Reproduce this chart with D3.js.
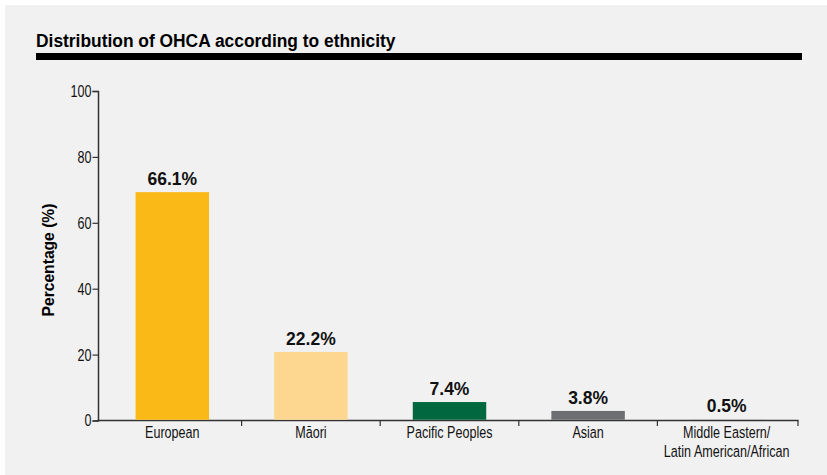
<!DOCTYPE html>
<html>
<head>
<meta charset="utf-8">
<script src="https://cdn.jsdelivr.net/npm/d3@7"></script>
<style>
  html, body { margin: 0; padding: 0; background: #ffffff; }
  svg { display: block; }
  text { font-family: "Liberation Sans", Arial, sans-serif; }
</style>
</head>
<body>
<svg id="chart" width="827" height="475"></svg>
<script>
// ---- Data ----
const categories = ["European", "Māori", "Pacific Peoples", "Asian", "Middle Eastern/\nLatin American/African"];
const barValues = [69.3, 20.8, 5.6, 2.9, 0.4];          // bar heights as drawn
const valueLabels = ["66.1%", "22.2%", "7.4%", "3.8%", "0.5%"];
const barColors = ["#fbb917", "#fdd78f", "#00673e", "#6d6e71", "#b1b1b1"];
const yTicks = [0, 20, 40, 60, 80, 100];
const titleText = "Distribution of OHCA according to ethnicity";
const yLabelText = "Percentage (%)";

const svg = d3.select("#chart");
const W = 827, H = 475;
const K = 0.74; // horizontal condensing factor

// background
svg.append("rect").attr("x", 5).attr("y", 5).attr("width", W - 5).attr("height", H - 5).attr("fill", "#f1f1f1");

// title (condensed via horizontal scale)
svg.append("text")
  .attr("transform", "translate(36,47) scale(0.915,1)")
  .attr("font-size", 19).attr("font-weight", "bold").attr("fill", "#000")
  .text(titleText);
svg.append("rect").attr("x", 36).attr("y", 53).attr("width", 766).attr("height", 7).attr("fill", "#000");

// scales
const y = d3.scaleLinear().domain([0, 100]).range([420.5, 91]);
const x = d3.scaleBand().domain(categories).range([103, 796]).paddingInner(0.47).paddingOuter(0.235);

// y axis
const yAxis = svg.append("g").attr("transform", "translate(98,0)")
  .call(d3.axisLeft(y).tickValues(yTicks).tickSize(5.5).tickPadding(1));
yAxis.attr("font-family", null);
yAxis.select(".domain").attr("stroke", "#333").attr("stroke-width", 1.5);
yAxis.selectAll(".tick line").attr("stroke", "#333").attr("stroke-width", 1.2);
yAxis.selectAll(".tick text")
  .attr("font-size", 17).attr("fill", "#111")
  .attr("x", -6.5 / K)
  .attr("transform", `scale(${K},1)`);

// x axis line with boundary ticks
const xTickPos = categories.slice(1).map(c => x(c) - x.step() * x.paddingInner() / 2);
xTickPos.push(798);
svg.append("line").attr("x1", 97.25).attr("x2", 798.6).attr("y1", 420.5).attr("y2", 420.5)
  .attr("stroke", "#333").attr("stroke-width", 1.5);
svg.append("g").selectAll("line").data(xTickPos).join("line")
  .attr("x1", d => d).attr("x2", d => d).attr("y1", 420.5).attr("y2", 426)
  .attr("stroke", "#333").attr("stroke-width", 1.2);

// bars
svg.append("g").selectAll("rect").data(categories).join("rect")
  .attr("x", d => x(d)).attr("width", x.bandwidth())
  .attr("y", (d, i) => y(barValues[i]))
  .attr("height", (d, i) => y(0) - y(barValues[i]) - 0.75)
  .attr("fill", (d, i) => barColors[i]);

// value labels
svg.append("g").selectAll("text").data(categories).join("text")
  .attr("x", d => x(d) + x.bandwidth() / 2)
  .attr("y", (d, i) => y(barValues[i]) - 7)
  .attr("text-anchor", "middle")
  .attr("font-weight", "bold").attr("font-size", 17.5).attr("fill", "#111")
  .text((d, i) => valueLabels[i]);

// category labels (one text per line, condensed)
const catG = svg.append("g");
categories.forEach(c => {
  const cx = x(c) + x.bandwidth() / 2;
  c.split("\n").forEach((l, k) => {
    catG.append("text")
      .attr("transform", `translate(${cx},${438 + k * 18.5}) scale(${K},1)`)
      .attr("text-anchor", "middle").attr("font-size", 17).attr("fill", "#111")
      .text(l);
  });
});

// y axis title
svg.append("text")
  .attr("transform", "translate(54,260) rotate(-90) scale(0.92,1)")
  .attr("text-anchor", "middle").attr("font-size", 17).attr("font-weight", "bold").attr("fill", "#000")
  .text(yLabelText);
</script>
</body>
</html>
